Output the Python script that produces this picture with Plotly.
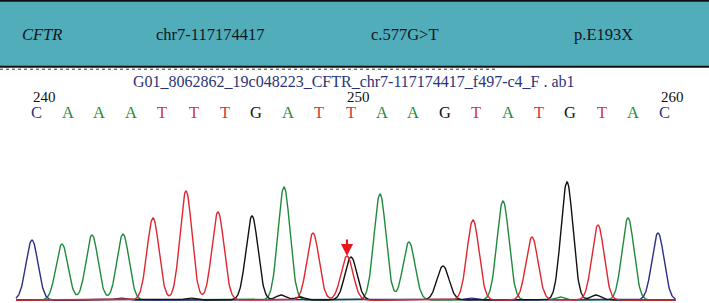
import numpy as np
import plotly.graph_objects as go

# ---------------- data ----------------
header_labels = ["CFTR", "chr7-117174417", "c.577G>T", "p.E193X"]
file_title = "G01_8062862_19c048223_CFTR_chr7-117174417_f497-c4_F . ab1"

bases = list("CAAATTTGATTAAGTATGTAC")
base_numbers = list(range(240, 261))
tick_numbers = [240, 250, 260]

# primary peak (scan position, height) for each called base
peak_scan = [32, 62, 92, 123, 153, 186, 218, 252, 284, 313, 347,
             380, 409, 443, 473, 503, 532, 567, 598, 628, 658]
peak_height = [60, 56, 65, 66, 82, 109, 88, 84, 113, 67, 44,
               106, 58, 34, 80, 99, 63, 118, 75, 82, 67]

# heterozygous second peak at the variant position (c.577G>T)
het_scan = [351]
het_base = ["G"]
het_height = [43]

# small background bumps
minor_scan = [281, 596, 190, 300, 560, 470, 120]
minor_base = ["G", "G", "G", "G", "A", "C", "C"]
minor_height = [5, 5, 2, 3, 3, 2, 2]

variant_scan = 347
variant_tip = 45

trace_start, trace_end = 16, 675

# ---------------- styles ----------------
colors = {"A": "#1f8a3c", "C": "#2b2f85", "G": "#111111", "T": "#e0262e"}
letter_colors = {"A": "#1f8a3c", "C": "#2d3482", "G": "#111111", "T": "#d8353a"}
W, H = 709, 303
sigma = 6.0

x = np.arange(trace_start, trace_end + 1, 0.5)

def channel(b):
    y = np.full_like(x, 1.0, dtype=float)
    for s, h, bb in zip(peak_scan, peak_height, bases):
        if bb == b:
            y += h * np.exp(-0.5 * ((x - s) / sigma) ** 2)
    for s, h, bb in zip(het_scan, het_height, het_base):
        if bb == b:
            y += h * np.exp(-0.5 * ((x - s) / sigma) ** 2)
    for s, h, bb in zip(minor_scan, minor_height, minor_base):
        if bb == b:
            y += h * np.exp(-0.5 * ((x - s) / 5.0) ** 2)
    return y

fig = go.Figure()
for b in ["A", "C", "G", "T"]:
    fig.add_trace(go.Scatter(x=x, y=channel(b), mode="lines",
                             line=dict(color=colors[b], width=1.4),
                             hoverinfo="skip", showlegend=False))

def px_x(p):
    return p / W

def px_y(p):
    return 1 - p / H

shapes = [
    dict(type="rect", xref="paper", yref="paper", x0=0, x1=1,
         y0=px_y(67), y1=1, fillcolor="#51adba", line=dict(width=0), layer="below"),
    dict(type="line", xref="paper", yref="paper", x0=0, x1=1,
         y0=px_y(0.8), y1=px_y(0.8), line=dict(color="#111111", width=2)),
    dict(type="line", xref="paper", yref="paper", x0=0, x1=1,
         y0=px_y(66.8), y1=px_y(66.8), line=dict(color="#111111", width=2)),
    dict(type="line", xref="paper", yref="paper", x0=0, x1=0.70,
         y0=px_y(69.2), y1=px_y(69.2), line=dict(color="#333333", width=1, dash="dot")),
]

annotations = []
header_x = [20, 154, 369, 572]
for lab, hx in zip(header_labels, header_x):
    txt = "<i>%s</i>" % lab if lab == "CFTR" else lab
    annotations.append(dict(text=txt, xref="paper", yref="paper", x=px_x(hx), y=px_y(35),
                            xanchor="left", yanchor="middle", showarrow=False,
                            font=dict(family="Liberation Serif", size=16.5, color="#10161f")))
annotations.append(dict(text=file_title, xref="paper", yref="paper", x=px_x(354), y=px_y(82),
                        xanchor="center", yanchor="middle", showarrow=False,
                        font=dict(family="Liberation Serif", size=16, color="#2b3378")))

letter_x0, letter_step = 36.5, 31.4
for n, b in zip(base_numbers, bases):
    lx = letter_x0 + (n - base_numbers[0]) * letter_step
    annotations.append(dict(text=b, xref="x", yref="paper", x=lx, y=px_y(113),
                            xanchor="center", yanchor="middle", showarrow=False,
                            font=dict(family="Liberation Serif", size=16.5, color=letter_colors[b])))
    if n in tick_numbers:
        annotations.append(dict(text=str(n), xref="x", yref="paper", x=lx - 6, y=px_y(97),
                                xanchor="left", yanchor="middle", showarrow=False,
                                font=dict(family="Liberation Serif", size=15, color="#111111")))

annotations.append(dict(x=variant_scan, y=variant_tip, xref="x", yref="y", ax=0, ay=-18,
                        showarrow=True, arrowhead=2, arrowsize=1.1, arrowwidth=2.2,
                        arrowcolor="#e8161e", text=""))

fig.update_layout(
    width=W, height=H, margin=dict(l=0, r=0, t=0, b=0),
    paper_bgcolor="white", plot_bgcolor="rgba(0,0,0,0)",
    xaxis=dict(range=[0, W], visible=False, fixedrange=True),
    yaxis=dict(range=[-2, 301], visible=False, fixedrange=True),
    shapes=shapes, annotations=annotations, showlegend=False,
)

fig.write_html("out.html", config={"displayModeBar": False},
               post_script="document.body.style.margin='0px';")
